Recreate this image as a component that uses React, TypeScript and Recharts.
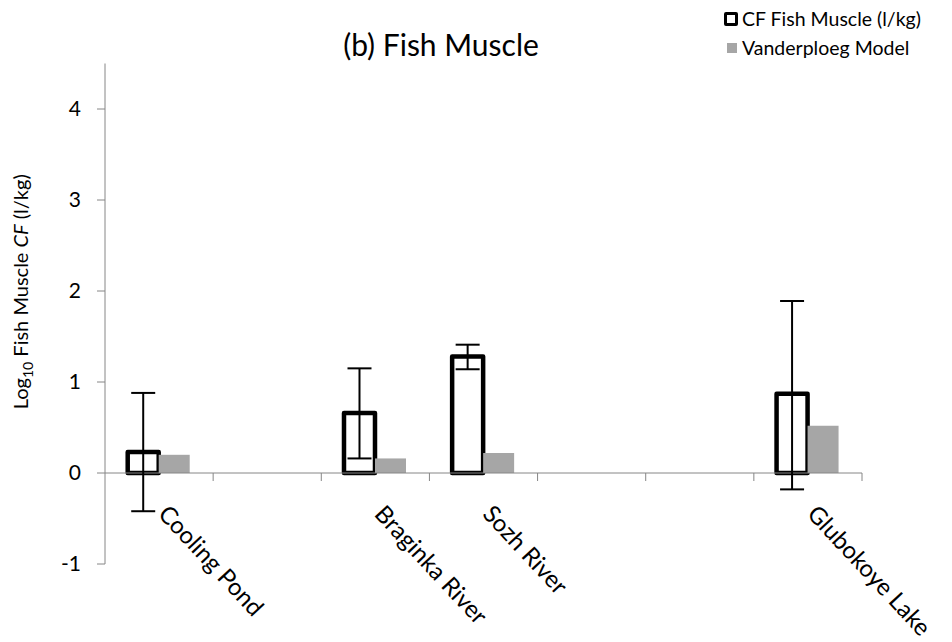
import React from "react";
import { ComposedChart, Bar, XAxis, YAxis, ErrorBar, ReferenceLine } from "recharts";

const categories = ["Cooling Pond", "", "Braginka River", "Sozh River", "", "", "Glubokoye Lake"];
const cfValues = [0.23, null, 0.66, 1.28, null, null, 0.87];
const cfErrors = [[0.65, 0.65], null, [0.5, 0.49], [0.14, 0.13], null, null, [1.05, 1.02]];
const modelValues = [0.2, null, 0.16, 0.22, null, null, 0.52];
const yTicks = [-1, 0, 1, 2, 3, 4];
const seriesNames = ["CF Fish Muscle (l/kg)", "Vanderploeg Model"];
const chartTitle = "(b) Fish Muscle";

const data = categories.map((c, i) => ({
  id: i,
  cf: cfValues[i],
  cfErr: cfErrors[i],
  model: modelValues[i],
}));

const FONT = "Lato, 'Open Sans', sans-serif";
const AXIS = "#868686";

const ZeroAxis = (props: any) => {
  const { x1, x2, y1 } = props;
  const n = categories.length;
  const w = (x2 - x1) / n;
  return (
    <g>
      <line x1={x1} x2={x2} y1={y1} y2={y1} stroke={AXIS} strokeWidth={1} />
      {categories.map((_, i) => (
        <line key={"t" + i} x1={x1 + (i + 1) * w} x2={x1 + (i + 1) * w} y1={y1} y2={y1 + 8} stroke={AXIS} strokeWidth={1} />
      ))}
      {categories.map((c, i) =>
        c ? (
          <text
            key={"l" + i}
            transform={`translate(${x1 + (i + 0.5) * w - 2}, ${y1 + 42}) rotate(47)`}
            textAnchor="start"
            fontFamily={FONT}
            fontSize={24}
            fill="#000"
          >
            {c}
          </text>
        ) : null
      )}
    </g>
  );
};

const YLabel = (props: any) => {
  const { viewBox } = props;
  const cx = 28;
  const cy = viewBox.y + viewBox.height / 2 - 22;
  return (
    <text transform={`translate(${cx}, ${cy}) rotate(-90)`} textAnchor="middle" fontFamily={FONT} fontSize={20} fill="#000">
      Log<tspan fontSize={14} dy={5}>10</tspan>
      <tspan dy={-5}> Fish Muscle </tspan>
      <tspan fontStyle="italic">CF</tspan>
      <tspan> (l/kg)</tspan>
    </text>
  );
};

export default function App() {
  return (
    <div style={{ position: "absolute", left: 0, top: 0, width: 952, height: 642, background: "#fff", overflow: "hidden" }}>
      <div
        style={{
          position: "absolute",
          left: 0,
          width: 882,
          top: 26,
          textAlign: "center",
          fontFamily: FONT,
          fontSize: 30,
          color: "#000",
          lineHeight: "36px",
        }}
      >
        {chartTitle}
      </div>
      <div
        style={{
          position: "absolute",
          left: 724,
          top: 4,
          width: 228,
          fontFamily: FONT,
          fontSize: 19.5,
          color: "#000",
          lineHeight: "29px",
          whiteSpace: "nowrap",
        }}
      >
        <div style={{ display: "flex", alignItems: "center" }}>
          <span style={{ display: "inline-block", width: 8, height: 8, border: "3px solid #000", borderRadius: 2, marginRight: 4 }} />
          {seriesNames[0]}
        </div>
        <div style={{ display: "flex", alignItems: "center" }}>
          <span style={{ display: "inline-block", width: 10, height: 10, background: "#a6a6a6", marginLeft: 3, marginRight: 5 }} />
          {seriesNames[1]}
        </div>
      </div>
      <ComposedChart
        width={952}
        height={642}
        data={data}
        margin={{ top: 63.5, right: 90, bottom: 78, left: 0 }}
        barCategoryGap="21%"
        barGap={0}
      >
        <XAxis dataKey="id" type="category" hide />
        <YAxis
          type="number"
          domain={[-1, 4.5]}
          ticks={yTicks}
          width={105}
          stroke={AXIS}
          tickSize={8}
          tickMargin={16}
          tick={{ fill: "#000", fontSize: 21, fontFamily: FONT }}
          label={{ content: YLabel }}
          allowDataOverflow
        />
        <ReferenceLine y={0} shape={ZeroAxis} ifOverflow="visible" />
        <Bar dataKey="cf" name={seriesNames[0]} fill="#fff" stroke="#000" strokeWidth={4.5} strokeLinejoin="round" isAnimationActive={false}>
          <ErrorBar dataKey="cfErr" width={12} stroke="#000" strokeWidth={2} direction="y" />
        </Bar>
        <Bar dataKey="model" name={seriesNames[1]} fill="#a6a6a6" isAnimationActive={false} />
      </ComposedChart>
    </div>
  );
}
